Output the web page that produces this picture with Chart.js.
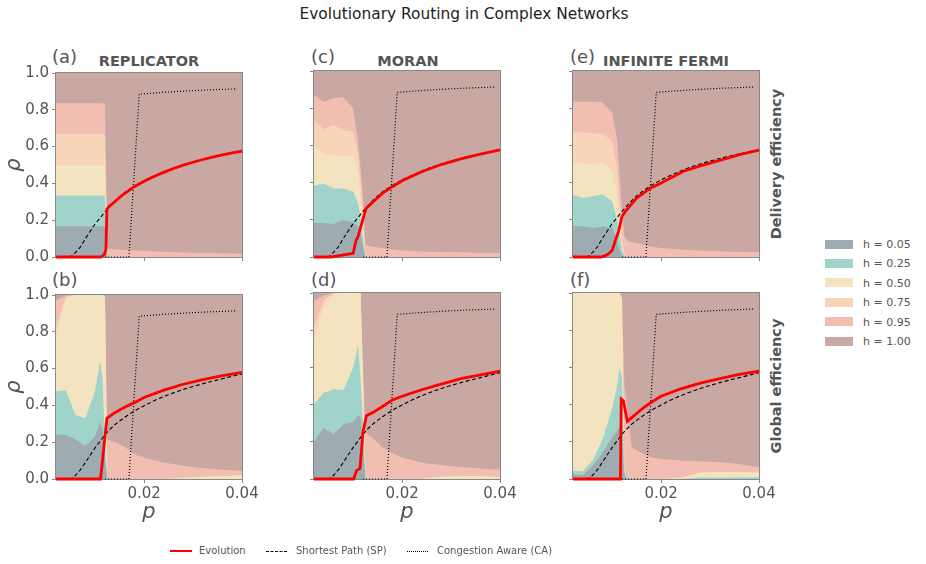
<!DOCTYPE html>
<html>
<head>
<meta charset="utf-8">
<script src="https://cdn.jsdelivr.net/npm/chart.js@4.4.0/dist/chart.umd.min.js"></script>
<style>
  body { margin: 0; background: #fff; font-family: "DejaVu Sans", sans-serif; }
  #wrap { position: relative; width: 926px; height: 564px; overflow: hidden; }
  canvas { position: absolute; }
  .t { position: absolute; white-space: nowrap; color: #555; line-height: 1; transform: translate(0, -50%); }
  .c { transform: translate(-50%, -50%); }
  .bold { font-weight: bold; }
  .rot { transform: translate(-50%, -50%) rotate(-90deg); }
  .patch { position: absolute; width: 28px; height: 9px; }
  .ln { position: absolute; width: 22px; height: 0; }
</style>
</head>
<body>
<div id="wrap">
  <div class="t c" style="left:464px;top:15px;font-size:15.4px;color:#222">Evolutionary Routing in Complex Networks</div>

  <div class="t" style="left:52px;top:57px;font-size:18px">(a)</div>
  <div class="t" style="left:311px;top:57px;font-size:18px">(c)</div>
  <div class="t" style="left:570px;top:57px;font-size:18px">(e)</div>
  <div class="t" style="left:52px;top:280px;font-size:18px">(b)</div>
  <div class="t" style="left:311px;top:280px;font-size:18px">(d)</div>
  <div class="t" style="left:570px;top:280px;font-size:18px">(f)</div>

  <div class="t c bold" style="left:149px;top:61px;font-size:14.5px">REPLICATOR</div>
  <div class="t c bold" style="left:408px;top:61px;font-size:14.5px">MORAN</div>
  <div class="t c bold" style="left:666px;top:61px;font-size:14.5px">INFINITE FERMI</div>

  <div class="t rot bold" style="left:776px;top:164px;font-size:14.5px">Delivery efficiency</div>
  <div class="t rot bold" style="left:776px;top:386px;font-size:14.5px">Global efficiency</div>

  <canvas id="cA" width="266" height="210" style="left:0px;top:61px"></canvas>
  <canvas id="cC" width="266" height="210" style="left:258px;top:61px"></canvas>
  <canvas id="cE" width="266" height="210" style="left:517px;top:61px"></canvas>
  <canvas id="cB" width="266" height="246" style="left:0px;top:283px"></canvas>
  <canvas id="cD" width="266" height="246" style="left:258px;top:283px"></canvas>
  <canvas id="cF" width="266" height="246" style="left:517px;top:283px"></canvas>

  <div id="hLegend"></div>

  <div class="ln" style="left:170px;top:550px;border-top:2px solid #ff0000"></div>
  <div class="t" style="left:199px;top:551px;font-size:10px">Evolution</div>
  <div class="ln" style="left:266px;top:551px;width:21px;border-top:1.3px dashed #000"></div>
  <div class="t" style="left:296px;top:551px;font-size:10px">Shortest Path (SP)</div>
  <div class="ln" style="left:407px;top:551px;width:21px;border-top:1px dotted #000"></div>
  <div class="t" style="left:437px;top:551px;font-size:10px">Congestion Aware (CA)</div>
</div>

<script>
// grid of p values used by the stacked strategy shares
const pGrid = [0.002, 0.004, 0.006, 0.008, 0.010, 0.011, 0.0115, 0.012, 0.0125, 0.013, 0.014, 0.016, 0.018, 0.020, 0.024, 0.028, 0.032, 0.036, 0.040];
const hLabels = ['h = 0.05', 'h = 0.25', 'h = 0.50', 'h = 0.75', 'h = 0.95', 'h = 1.00'];
const hColors = ['#9eabb1', '#a0d4cb', '#f4e3bf', '#f8d4b8', '#f2beb2', '#c9a7a2'];
const xTicks = [0.02, 0.04];
const yTicks = [0, 0.2, 0.4, 0.6, 0.8, 1.0];

// shares per h (rows: h=0.05 ... h=1.00)
const replicatorDelivery = [
  [0.167,0.167,0.167,0.167,0.167,0.167,0.167,0.166,0,0,0,0,0,0,0,0,0,0,0],
  [0.167,0.167,0.167,0.167,0.167,0.167,0.167,0.166,0,0,0,0,0,0,0,0,0,0,0],
  [0.167,0.167,0.167,0.167,0.167,0.167,0.167,0.166,0,0,0,0,0,0,0,0,0,0,0],
  [0.167,0.167,0.167,0.167,0.167,0.167,0.167,0.166,0,0,0,0,0,0,0,0,0,0,0],
  [0.167,0.167,0.167,0.167,0.167,0.167,0.167,0.166,0.045,0.044,0.042,0.038,0.035,0.032,0.028,0.025,0.022,0.02,0.018],
  [0.165,0.165,0.165,0.165,0.165,0.165,0.165,0.17,0.955,0.956,0.958,0.962,0.965,0.968,0.972,0.975,0.978,0.98,0.982]
];
const moranDelivery = [
  [0.186,0.182,0.177,0.2,0.186,0.165,0.13,0.06,0,0,0,0,0,0,0,0,0,0,0],
  [0.199,0.212,0.193,0.167,0.166,0.125,0.09,0.04,0.005,0,0,0,0,0,0,0,0,0,0],
  [0.215,0.156,0.18,0.173,0.198,0.16,0.1,0.06,0.005,0.003,0,0,0,0,0,0,0,0,0],
  [0.137,0.137,0.16,0.143,0.124,0.1,0.08,0.06,0.005,0.002,0,0,0,0,0,0,0,0,0],
  [0.134,0.148,0.143,0.176,0.126,0.07,0.08,0.11,0.051,0.057,0.055,0.048,0.04,0.035,0.03,0.027,0.025,0.022,0.021],
  [0.129,0.165,0.147,0.141,0.2,0.38,0.52,0.67,0.934,0.938,0.945,0.952,0.96,0.965,0.97,0.973,0.975,0.978,0.979]
];
const fermiDelivery = [
  [0.168,0.164,0.156,0.164,0.156,0.093,0.04,0.01,0,0,0,0,0,0,0,0,0,0,0],
  [0.167,0.153,0.17,0.174,0.144,0.107,0.09,0.03,0.005,0,0,0,0,0,0,0,0,0,0],
  [0.169,0.188,0.169,0.167,0.165,0.143,0.04,0.02,0.005,0,0,0,0,0,0,0,0,0,0],
  [0.165,0.167,0.17,0.158,0.16,0.144,0.13,0.06,0.01,0.002,0,0,0,0,0,0,0,0,0],
  [0.166,0.163,0.17,0.169,0.15,0.143,0.15,0.13,0.09,0.088,0.08,0.068,0.055,0.048,0.04,0.035,0.03,0.028,0.025],
  [0.165,0.165,0.165,0.168,0.225,0.37,0.55,0.75,0.89,0.91,0.92,0.932,0.945,0.952,0.96,0.965,0.97,0.972,0.975]
];
const replicatorGlobal = [
  [0.241,0.241,0.214,0.18,0.232,0.31,0.28,0.12,0,0,0,0,0,0,0,0,0,0,0],
  [0.236,0.241,0.134,0.15,0.248,0.33,0.27,0.08,0,0,0,0,0,0,0,0,0,0,0],
  [0.303,0.503,0.652,0.67,0.52,0.36,0.45,0.79,0,0,0,0,0,0,0,0.005,0.012,0.015,0.02],
  [0.05,0.005,0,0,0,0,0,0,0,0,0,0,0,0,0,0,0,0,0],
  [0.14,0.007,0,0,0,0,0,0,0.214,0.21,0.2,0.175,0.135,0.115,0.09,0.067,0.046,0.035,0.025],
  [0.03,0.003,0,0,0,0,0,0.01,0.786,0.79,0.8,0.825,0.865,0.885,0.91,0.928,0.942,0.95,0.955]
];
const moranGlobal = [
  [0.2,0.277,0.241,0.295,0.305,0.34,0.34,0.2,0,0,0,0,0,0,0,0,0,0,0],
  [0.202,0.187,0.241,0.182,0.295,0.38,0.21,0.1,0.01,0,0,0,0,0,0,0,0,0,0],
  [0.348,0.466,0.513,0.523,0.4,0.28,0.45,0.25,0.01,0,0,0,0,0,0,0.012,0.015,0.015,0.012],
  [0.07,0.03,0.005,0,0,0,0,0.01,0,0,0,0,0,0,0,0,0,0,0],
  [0.14,0.025,0,0,0,0,0,0.04,0.23,0.24,0.22,0.17,0.14,0.115,0.088,0.063,0.05,0.041,0.038],
  [0.04,0.015,0,0,0,0,0,0.4,0.75,0.76,0.78,0.83,0.86,0.885,0.912,0.925,0.935,0.944,0.95]
];
const fermiGlobal = [
  [0.027,0.02,0.07,0.14,0.225,0.26,0.28,0.2,0.02,0,0,0,0,0,0,0,0,0,0],
  [0.018,0.02,0.03,0.07,0.155,0.24,0.32,0.35,0.03,0.01,0,0,0,0,0,0.008,0.008,0.01,0.01],
  [0.955,0.96,0.9,0.79,0.62,0.5,0.4,0.42,0.01,0,0,0,0,0,0.005,0.027,0.03,0.028,0.025],
  [0,0,0,0,0,0,0,0,0,0,0,0,0,0,0,0,0,0,0],
  [0,0,0,0,0,0,0,0,0.44,0.39,0.17,0.14,0.116,0.108,0.095,0.06,0.052,0.042,0.0275],
  [0,0,0,0,0,0,0,0.03,0.5,0.6,0.83,0.86,0.884,0.892,0.9,0.905,0.91,0.92,0.9375]
];

// reference lines (same for every strategy)
const pLine = [0.002,0.004,0.005,0.006,0.007,0.008,0.009,0.010,0.011,0.012,0.013,0.014,0.015,0.016,0.018,0.020,0.022,0.024,0.026,0.028,0.030,0.032,0.034,0.036,0.038,0.040];
const spDelivery = [0,0,0,0.025,0.055,0.1,0.14,0.18,0.212,0.245,0.275,0.303,0.328,0.35,0.385,0.415,0.44,0.462,0.483,0.5,0.516,0.53,0.543,0.555,0.566,0.576];
const spGlobal = [0,0,0,0.02,0.05,0.09,0.13,0.17,0.205,0.24,0.27,0.295,0.315,0.335,0.37,0.398,0.425,0.448,0.468,0.487,0.503,0.518,0.532,0.545,0.558,0.571];
const pCA = [0.012, 0.0169, 0.019, 0.024, 0.029, 0.034, 0.039];
const caValues = [0, 0, 0.885, 0.895, 0.903, 0.909, 0.914];

// evolution curves [p, rho]
const evoReplicatorDelivery = [[0.002,0],[0.0112,0],[0.0119,0.015],[0.0122,0.04],[0.0124,0.26],[0.013,0.278],[0.014,0.3],[0.015,0.324],[0.016,0.345],[0.018,0.382],[0.020,0.412],[0.022,0.438],[0.024,0.46],[0.026,0.481],[0.028,0.499],[0.030,0.515],[0.032,0.53],[0.034,0.543],[0.036,0.555],[0.038,0.566],[0.040,0.576]];
const evoMoranDelivery = [[0.002,0],[0.0055,0],[0.010,0.02],[0.0106,0.09],[0.011,0.11],[0.0126,0.26],[0.0134,0.28],[0.016,0.343],[0.018,0.378],[0.020,0.41],[0.024,0.458],[0.028,0.497],[0.032,0.528],[0.036,0.553],[0.040,0.576]];
const evoFermiDelivery = [[0.002,0],[0.0078,0],[0.009,0.012],[0.010,0.035],[0.0106,0.084],[0.0113,0.138],[0.012,0.218],[0.0127,0.245],[0.015,0.317],[0.0178,0.37],[0.020,0.398],[0.0245,0.46],[0.028,0.49],[0.032,0.52],[0.036,0.55],[0.040,0.575]];
const evoReplicatorGlobal = [[0.002,0],[0.0111,0],[0.0124,0.33],[0.0138,0.357],[0.016,0.39],[0.018,0.415],[0.020,0.443],[0.024,0.483],[0.028,0.515],[0.032,0.54],[0.036,0.562],[0.040,0.58]];
const evoMoranGlobal = [[0.002,0],[0.0101,0],[0.0107,0.045],[0.0114,0.057],[0.012,0.25],[0.0127,0.34],[0.014,0.357],[0.016,0.39],[0.018,0.425],[0.020,0.445],[0.024,0.48],[0.028,0.51],[0.032,0.54],[0.036,0.56],[0.040,0.58]];
const evoFermiGlobal = [[0.002,0],[0.0117,0],[0.01185,0.43],[0.0123,0.42],[0.0131,0.31],[0.014,0.33],[0.016,0.375],[0.018,0.413],[0.020,0.445],[0.024,0.485],[0.028,0.515],[0.032,0.54],[0.036,0.562],[0.040,0.58]];

Chart.defaults.font.family = '"DejaVu Sans", sans-serif';
Chart.defaults.color = '#555';

// box around each plot
const framePlugin = {
    id: 'frame',
    beforeDatasetsDraw(chart) {
        const a = chart.chartArea;
        const ctx = chart.ctx;
        ctx.save();
        ctx.strokeStyle = '#888';
        ctx.lineWidth = 1;
        ctx.strokeRect(a.left - 0.5, a.top - 0.5, a.right - a.left + 1, a.bottom - a.top + 1);
        ctx.restore();
    }
};

function drawPanel(id, shares, evo, sp, showY, showX) {
    const lines = [
        {
            data: evo.map(d => ({ x: d[0], y: d[1] })),
            borderColor: '#ff0000', borderWidth: 2.8, fill: false,
            stack: 'evo', order: 0, clip: false
        },
        {
            data: pLine.map((p, i) => ({ x: p, y: sp[i] })),
            borderColor: '#000', borderWidth: 1.1, borderDash: [4, 2.5], fill: false,
            stack: 'sp', order: 0
        },
        {
            data: pCA.map((p, i) => ({ x: p, y: caValues[i] })),
            borderColor: '#000', borderWidth: 1.2, borderDash: [1, 2], fill: false,
            stack: 'ca', order: 0, clip: false
        }
    ];
    const areas = shares.map((row, i) => ({
        label: hLabels[i],
        data: pGrid.map((p, k) => ({ x: p, y: row[k] })),
        backgroundColor: hColors[i],
        borderColor: 'rgba(0,0,0,0)',
        borderWidth: 0,
        fill: 'origin',
        stack: 'areas',
        order: 1
    }));

    new Chart(document.getElementById(id), {
        type: 'line',
        data: { datasets: lines.concat(areas) },
        options: {
            responsive: false,
            animation: false,
            layout: { padding: { top: 10, right: 24, left: 0, bottom: 0 }, autoPadding: false },
            elements: { point: { radius: 0 }, line: { tension: 0 } },
            plugins: { legend: { display: false }, tooltip: { enabled: false } },
            scales: {
                x: {
                    type: 'linear', min: 0.002, max: 0.04,
                    afterBuildTicks: s => { s.ticks = xTicks.map(v => ({ value: v })); },
                    afterFit: s => { s.height = showX ? 50 : 14; },
                    grid: { drawOnChartArea: false, tickLength: 4, color: '#888' },
                    border: { display: false },
                    ticks: { display: showX, padding: 2, font: { size: 15 }, color: '#555', callback: v => v.toFixed(2) },
                    title: { display: showX, text: 'p', font: { size: 21, style: 'italic' }, color: '#555', padding: { top: 0, bottom: 4 } }
                },
                y: {
                    min: 0, max: 1, stacked: true,
                    afterBuildTicks: s => { s.ticks = yTicks.map(v => ({ value: v })); },
                    afterFit: s => { s.width = 56; },
                    grid: { drawOnChartArea: false, tickLength: 4, color: '#888' },
                    border: { display: false },
                    ticks: { display: showY, padding: 3, font: { size: 15 }, color: '#555', callback: v => v.toFixed(1) },
                    title: { display: showY, text: 'ρ', font: { size: 21, style: 'italic' }, color: '#555', padding: { top: 2, bottom: 0 } }
                }
            }
        },
        plugins: [framePlugin]
    });
}

drawPanel('cA', replicatorDelivery, evoReplicatorDelivery, spDelivery, true, false);
drawPanel('cC', moranDelivery, evoMoranDelivery, spDelivery, false, false);
drawPanel('cE', fermiDelivery, evoFermiDelivery, spDelivery, false, false);
drawPanel('cB', replicatorGlobal, evoReplicatorGlobal, spGlobal, true, true);
drawPanel('cD', moranGlobal, evoMoranGlobal, spGlobal, false, true);
drawPanel('cF', fermiGlobal, evoFermiGlobal, spGlobal, false, true);

// strategy legend on the right
const hl = document.getElementById('hLegend');
hLabels.forEach((lab, i) => {
    const y = 244 + i * 19.4;
    const patch = document.createElement('div');
    patch.className = 'patch';
    patch.style.left = '825px';
    patch.style.top = (y - 4.5) + 'px';
    patch.style.background = hColors[i];
    hl.appendChild(patch);
    const txt = document.createElement('div');
    txt.className = 't';
    txt.style.left = '863px';
    txt.style.top = y + 'px';
    txt.style.fontSize = '11px';
    txt.textContent = lab;
    hl.appendChild(txt);
});
</script>
</body>
</html>
